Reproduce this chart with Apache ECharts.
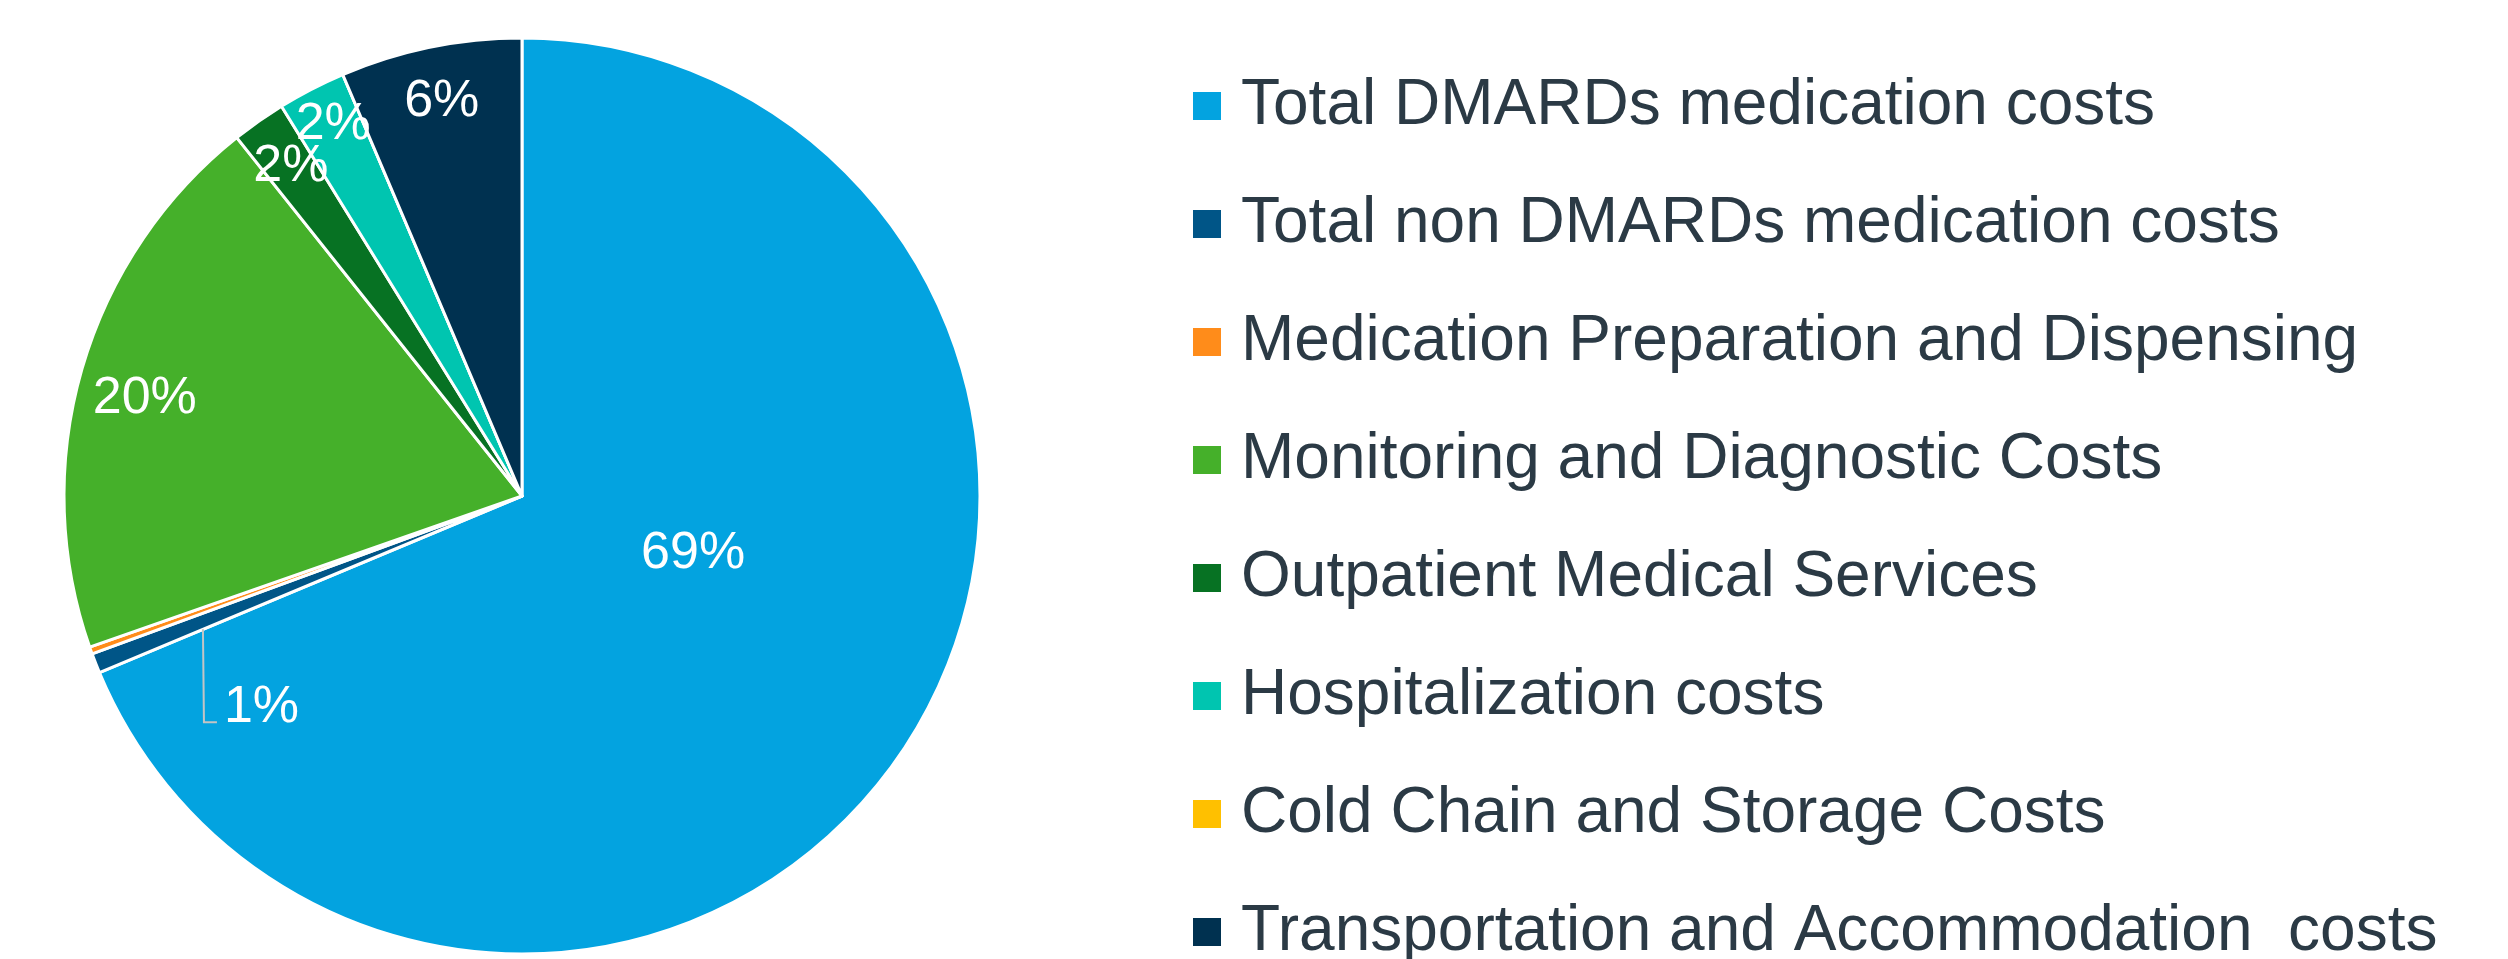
<!DOCTYPE html>
<html>
<head>
<meta charset="utf-8">
<title>Cost breakdown</title>
<script src="https://cdn.jsdelivr.net/npm/echarts@6/dist/echarts.min.js"></script>
<style>
  html, body { margin: 0; padding: 0; background: #fff; }
  #chart { width: 2508px; height: 959px; }
</style>
</head>
<body>
<div id="chart"></div>
<script>
// categories in slice order (clockwise from 12 o'clock)
const categories = [
  'Total DMARDs medication costs',
  'Total non DMARDs medication costs',
  'Medication Preparation and Dispensing',
  'Monitoring and Diagnostic Costs',
  'Outpatient Medical Services',
  'Hospitalization costs',
  'Cold Chain and Storage Costs',
  'Transportation and Accommodation  costs'
]
// share of total cost, %
const shares = [68.7, 0.7, 0.25, 19.65, 1.9, 2.4, 0, 6.4]
const sliceColors = ['#03A3E0', '#005587', '#FF8C1A', '#45B02A', '#077223', '#00C5B0', '#FFC000', '#003150']
// slices whose label sits on the outer ring
const ringLabelled = [false, false, false, true, true, true, false, true]

const CENTER = [522, 496]
const RADIUS = 458
const FONT = '"Liberation Sans", Arial, sans-serif'

const total = shares.reduce((a, b) => a + b, 0)
// end angle of the big slice, degrees clockwise from top
const firstEdge = 360 * shares[0] / total

function polar(angleDeg, r) {
  const a = angleDeg * Math.PI / 180
  return [CENTER[0] + r * Math.sin(a), CENTER[1] - r * Math.cos(a)]
}

const pctLabel = p => Math.round(p.percent) + '%'
const labelText = { color: '#fff', fontSize: 52, fontFamily: FONT }

// small nudges for ring labels (Excel doesn't put them exactly on the mid angle)
const ringNudge = { 3: [9, 14], 5: [-4, -14] }

// leader for the 1% label: starts on the edge of the big slice
const leadStart = polar(firstEdge, 0.755 * RADIUS)
const leadPoints = [leadStart, [leadStart[0] + 1, leadStart[1] + 93], [leadStart[0] + 14, leadStart[1] + 93]]

const chart = echarts.init(document.getElementById('chart'))

const option = {
  backgroundColor: '#fff',
  animation: false,
  legend: {
    orient: 'vertical',
    left: 1193,
    top: 71,
    height: 1000,
    padding: 0,
    icon: 'rect',
    itemWidth: 28,
    itemHeight: 28,
    itemGap: 48,
    selectedMode: false,
    itemStyle: { borderWidth: 0 },
    textStyle: {
      fontSize: 64,
      lineHeight: 70,
      color: '#2B3A45',
      fontFamily: FONT,
      padding: [0, 0, 0, 15]
    },
    data: categories
  },
  graphic: [
    {
      type: 'polyline',
      z: 100,
      silent: true,
      shape: { points: leadPoints },
      style: { stroke: '#C4C4C4', lineWidth: 2, fill: null }
    }
  ],
  series: [
    {
      name: 'cost',
      type: 'pie',
      center: CENTER,
      radius: [0, RADIUS],
      startAngle: 90,
      clockwise: true,
      avoidLabelOverlap: false,
      itemStyle: { borderColor: '#fff', borderWidth: 3 },
      label: { show: false, position: 'inside', formatter: pctLabel, ...labelText },
      labelLine: { show: false },
      emphasis: { disabled: true },
      data: categories.map((name, i) => ({
        name,
        value: shares[i],
        itemStyle: { color: sliceColors[i] },
        label: { show: i === 0 || i === 1 }
      })),
      labelLayout: params => {
        if (params.dataIndex === 0) return { dx: -22, dy: -71 }
        if (params.dataIndex === 1) {
          return {
            x: leadStart[0] + 21,
            y: leadStart[1] + 78,
            align: 'left',
            verticalAlign: 'middle'
          }
        }
      }
    },
    {
      // transparent ring, only used to place labels of the thin slices
      name: 'labels',
      type: 'pie',
      center: CENTER,
      radius: [340, RADIUS],
      startAngle: 90,
      clockwise: true,
      silent: true,
      legendHoverLink: false,
      avoidLabelOverlap: false,
      itemStyle: { color: 'rgba(0,0,0,0)', borderWidth: 0 },
      label: { position: 'inside', formatter: pctLabel, ...labelText },
      labelLine: { show: false },
      emphasis: { disabled: true },
      data: categories.map((name, i) => ({
        name,
        value: shares[i],
        label: { show: ringLabelled[i] }
      })),
      labelLayout: params => {
        const n = ringNudge[params.dataIndex]
        if (n) return { dx: n[0], dy: n[1] }
      }
    }
  ]
}

chart.setOption(option)
window.addEventListener('resize', () => chart.resize())
</script>
</body>
</html>
